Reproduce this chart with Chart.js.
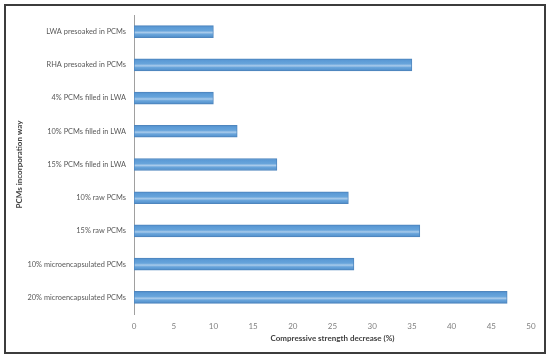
<!DOCTYPE html>
<html>
<head>
<meta charset="utf-8">
<script src="https://cdn.jsdelivr.net/npm/chart.js@4/dist/chart.umd.min.js"></script>
<style>
html,body{margin:0;padding:0;background:#fff;}
#wrap{position:relative;width:550px;height:360px;}
#frame{position:absolute;left:4px;top:4px;width:542px;height:350px;border:2px solid #3c3c3c;box-sizing:border-box;pointer-events:none;}
canvas{position:absolute;left:0;top:0;}
</style>
</head>
<body>
<div id="wrap">
<canvas id="c" width="550" height="360"></canvas>
<div id="frame"></div>
</div>
<script>
const categories = [
  "LWA presoaked in PCMs",
  "RHA presoaked in PCMs",
  "4% PCMs filled in LWA",
  "10% PCMs filled in LWA",
  "15% PCMs filled in LWA",
  "10% raw PCMs",
  "15% raw PCMs",
  "10% microencapsulated PCMs",
  "20% microencapsulated PCMs"
];
const strengthDecrease = [10, 35, 10, 13, 18, 27, 36, 27.7, 47];
const xTicks = [0, 5, 10, 15, 20, 25, 30, 35, 40, 45, 50];
const xTitle = "Compressive strength decrease (%)";
const yTitle = "PCMs incorporation way";

const BAR_T = 12;
function barFill(ctx) {
  const chart = ctx.chart;
  const ys = chart.scales && chart.scales.y;
  if (!ys || ctx.dataIndex === undefined || !isFinite(ys.getPixelForValue(ctx.dataIndex))) return '#5B9BD5';
  const c = ys.getPixelForValue(ctx.dataIndex);
  const g = chart.ctx.createLinearGradient(0, c - BAR_T / 2, 0, c + BAR_T / 2);
  g.addColorStop(0, '#4E8BC9');
  g.addColorStop(0.15, '#5C9BD6');
  g.addColorStop(0.42, '#67A4DB');
  g.addColorStop(0.58, '#A9CBEB');
  g.addColorStop(0.72, '#6AA5DB');
  g.addColorStop(0.88, '#5A98D2');
  g.addColorStop(1, '#4A84BF');
  return g;
}

const font = "Lato, 'Open Sans', sans-serif";
new Chart(document.getElementById('c'), {
  type: 'bar',
  data: {
    labels: categories,
    datasets: [{
      data: strengthDecrease,
      backgroundColor: barFill,
      borderColor: '#4F86BE',
      borderWidth: 1,
      borderSkipped: false,
      barThickness: BAR_T
    }]
  },
  options: {
    indexAxis: 'y',
    responsive: false,
    animation: false,
    devicePixelRatio: 1,
    layout: { padding: { left: 8, right: 19, top: 15, bottom: 17 } },
    plugins: { legend: { display: false }, tooltip: { enabled: false } },
    scales: {
      x: {
        min: 0, max: 50,
        afterBuildTicks: s => { s.ticks = xTicks.map(v => ({ value: v })); },
        grid: { display: false, drawTicks: false },
        border: { display: false },
        ticks: { color: '#7f7f7f', padding: 8, font: { family: font, size: 8 } },
        title: { display: true, text: xTitle, color: '#404040', padding: { top: 2, bottom: 0 },
                 font: { family: font, size: 8, weight: 'bold' } },
        afterFit: s => { s.height = 29; }
      },
      y: {
        grid: { display: false, drawTicks: false },
        border: { display: true, color: '#a0a0a0', width: 1 },
        ticks: { color: '#595959', padding: 8, font: { family: font, size: 7.4 } },
        title: { display: true, text: yTitle, color: '#404040', padding: { top: 7, bottom: 0 },
                 font: { family: font, size: 8, weight: 'bold' } },
        afterFit: s => { s.width = 126; }
      }
    }
  }
});
</script>
</body>
</html>
